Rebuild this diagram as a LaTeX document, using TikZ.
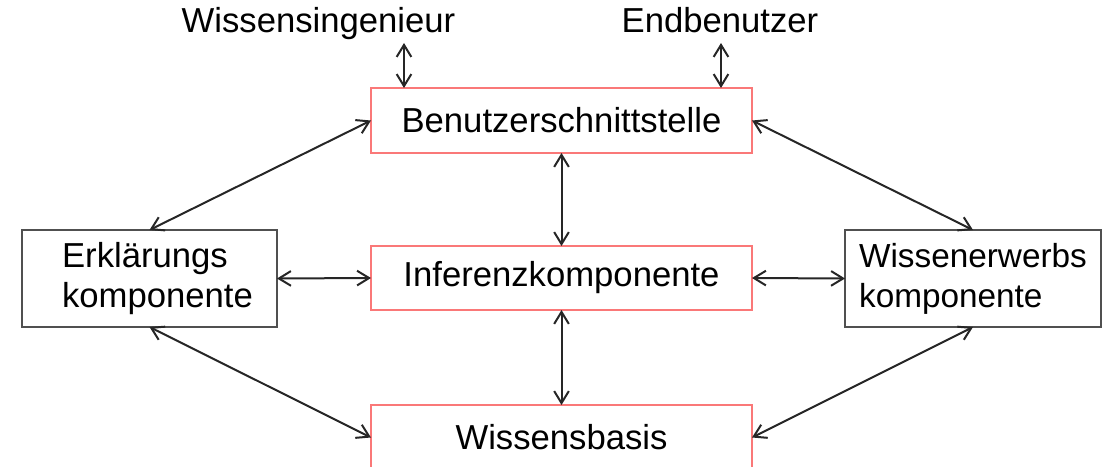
\documentclass[tikz,border=0pt]{standalone}
\usepackage{fontspec}
\setmainfont{Liberation Sans}
\usetikzlibrary{
    arrows.meta,
    calc,
    positioning
}
\definecolor{boxred}{RGB}{250,120,120}
\definecolor{boxgray}{RGB}{80,80,80}
\tikzset{kern/.style={draw=boxred, line width=1.2pt, inner sep=0pt, outer sep=0pt, minimum width=285.75pt, minimum height=48.75pt, font=\fontsize{26}{30}\selectfont},
    seite/.style={draw=boxgray, line width=1.2pt, inner sep=0pt, outer sep=0pt, minimum width=191.25pt, minimum height=72.75pt, align=left, font=\fontsize{26}{30}\selectfont},
    pfeil/.style={{Straight Barb[length=9pt,width=11pt]}-{Straight Barb[length=9pt,width=11pt]}, line width=1.5pt, black!85}}

\begin{document}
\begin{tikzpicture}[x=0.75pt, y=-0.75pt]
                        \useasboundingbox (0, 0) rectangle (1110, 467);

                        \node[kern] (bs) at (561.5, 120.5) {Benutzerschnittstelle};
                        \node[kern, minimum height=48pt] (ik) at (561.5, 278) {Inferenzkomponente};
                        \node[kern] (wb) at (561.5, 437.5) {Wissensbasis};

                        \node[seite] (ek) at (149.5, 278.5) {\hspace*{12pt}Erklärungs\\\hspace*{12pt}komponente};
                        \node[seite, minimum width=192pt, font=\fontsize{25}{30}\selectfont] (we) at (973, 278.5) {Wissenerwerbs\\komponente};

                        \node[anchor=base, font=\fontsize{26}{30}\selectfont] (wi) at (318.5, 33) {Wissensingenieur};
                        \node[anchor=base, font=\fontsize{26}{30}\selectfont] (eb) at (720, 33) {Endbenutzer};
                        \coordinate (wipunkt) at (404, 43);
                        \coordinate (ebpunkt) at (721, 43);

                        \draw[pfeil]
                        (wipunkt) -- (wipunkt |- bs.north);
                        \draw[pfeil]
                        (ebpunkt) -- (ebpunkt |- bs.north);

                        \draw[pfeil] (bs.south) -- (ik.north);
                        \draw[pfeil] (ik.south) -- (wb.north);
                        \draw[pfeil] (ek.east) -- (ik.west);
                        \draw[pfeil] (ik.east) -- (we.west);
                        \draw[pfeil] (ek.north) -- (bs.west);
                        \draw[pfeil] (we.north) -- (bs.east);
                        \draw[pfeil] (ek.south) -- (wb.west);
                        \draw[pfeil] (we.south) -- (wb.east);
                    \end{tikzpicture}
\end{document}
